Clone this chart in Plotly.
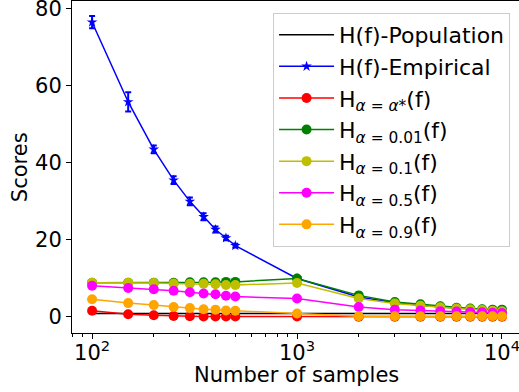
import plotly.graph_objects as go

samples = [100, 150, 200, 250, 300, 350, 400, 450, 500, 1000, 2000, 3000, 4000, 5000, 6000, 7000, 8000, 9000, 10000]

population = [0.9] * 19
empirical = [76.5, 55.8, 43.5, 35.5, 30.0, 26.0, 22.7, 20.5, 18.5, 10.0, 5.2, 3.7, 3.0, 2.6, 2.3, 2.1, 1.9, 1.8, 1.7]
empirical_err = [1.6, 2.5, 1.0, 1.0, 1.0, 0.9, 0.8, 0.6, 0.5, 0.3, 0.2, 0.2, 0.2, 0.2, 0.2, 0.2, 0.2, 0.2, 0.2]
alpha_star = [1.6, 0.7, 0.45, 0.25, 0.2, 0.15, 0.15, 0.1, 0.1, 0.1, 0.05, 0.05, 0.05, 0.05, 0.05, 0.05, 0.05, 0.05, 0.05]
alpha_001 = [8.9, 8.9, 8.9, 8.9, 9.0, 9.0, 9.0, 9.1, 9.1, 10.0, 5.6, 3.9, 3.3, 2.8, 2.4, 2.2, 2.0, 1.9, 1.9]
alpha_01 = [8.9, 8.9, 8.8, 8.7, 8.6, 8.6, 8.5, 8.3, 8.3, 8.8, 4.8, 3.5, 2.9, 2.5, 2.2, 2.0, 1.8, 1.6, 1.5]
alpha_05 = [8.1, 7.5, 7.2, 6.8, 6.4, 6.1, 5.9, 5.5, 5.3, 4.8, 2.6, 1.9, 1.7, 1.5, 1.4, 1.3, 1.2, 1.1, 1.0]
alpha_09 = [4.6, 3.6, 3.1, 2.6, 2.3, 2.0, 1.9, 1.7, 1.6, 0.9, 0.2, 0.2, 0.2, 0.2, 0.2, 0.2, 0.2, 0.2, 0.2]
small_err = [0.3] * 19

x_tick_vals = [100, 1000, 10000]
x_tick_text = ["10<sup>2</sup>", "10<sup>3</sup>", "10<sup>4</sup>"]
x_minor_vals = [80, 90, 200, 300, 400, 500, 600, 700, 800, 900,
                2000, 3000, 4000, 5000, 6000, 7000, 8000, 9000]
y_tick_vals = [0, 20, 40, 60, 80]

FONT = "DejaVu Sans"
FS = 21

fig = go.Figure()

fig.add_trace(go.Scatter(x=samples, y=population, mode="lines", name="H(f)-Population",
                         line=dict(color="black", width=1.5)))
fig.add_trace(go.Scatter(x=samples, y=empirical, mode="lines+markers", name="H(f)-Empirical",
                         line=dict(color="#0000ff", width=1.5),
                         marker=dict(symbol="star", size=8, color="#0000ff"),
                         error_y=dict(type="data", array=empirical_err, color="#0000ff", thickness=2, width=3)))

series = [
    (alpha_star, "H<sub><i>α</i> = <i>α</i>*</sub>(f)", "#ff0000"),
    (alpha_001, "H<sub><i>α</i> = 0.01</sub>(f)", "#008000"),
    (alpha_01, "H<sub><i>α</i> = 0.1</sub>(f)", "#bfbf00"),
    (alpha_05, "H<sub><i>α</i> = 0.5</sub>(f)", "#ff00ff"),
    (alpha_09, "H<sub><i>α</i> = 0.9</sub>(f)", "#ffa500"),
]
for vals, name, col in series:
    fig.add_trace(go.Scatter(x=samples, y=vals, mode="lines+markers", name=name,
                             line=dict(color=col, width=1.5),
                             marker=dict(symbol="circle", size=10, color=col),
                             error_y=dict(type="data", array=small_err, color=col, thickness=1.5, width=0)))

fig.update_layout(
    width=519, height=392,
    margin=dict(l=72, r=0, t=1, b=59),
    paper_bgcolor="white", plot_bgcolor="white",
    font=dict(family=FONT, size=FS, color="black"),
    showlegend=True,
    legend=dict(x=0.98, y=0.964, xanchor="right", yanchor="top",
                bgcolor="rgba(255,255,255,0.8)", bordercolor="#cccccc", borderwidth=1,
                font=dict(family=FONT, size=22, color="black"),
                itemwidth=55, tracegroupgap=0),
    xaxis=dict(type="log", range=[1.902, 4.083], automargin=False,
               tickmode="array", tickvals=x_tick_vals, ticktext=x_tick_text,
               ticks="outside", ticklen=5, tickwidth=1, tickcolor="black",
               minor=dict(tickmode="array", tickvals=x_minor_vals, ticks="outside", ticklen=3,
                          tickwidth=1, tickcolor="black", showgrid=False),
               showline=True, linecolor="black", linewidth=1, mirror=True,
               showgrid=False, zeroline=False, ticklabeloverflow="allow",
               ticklabelstandoff=-4,
               tickfont=dict(family=FONT, size=FS)),
    yaxis=dict(range=[-4.16, 82.0], automargin=False, tickmode="array", tickvals=y_tick_vals,
               ticks="outside", ticklen=5, tickwidth=1, tickcolor="black",
               showline=True, linecolor="black", linewidth=1, mirror=False,
               showgrid=False, zeroline=False, ticklabeloverflow="allow",
               tickfont=dict(family=FONT, size=FS)),
    annotations=[
        dict(text="Number of samples", xref="paper", yref="paper", x=0.503, y=-0.128,
             xanchor="center", yanchor="middle", showarrow=False,
             font=dict(family=FONT, size=FS)),
        dict(text="Scores", xref="paper", yref="paper", x=-0.116, y=0.5, textangle=-90,
             xanchor="center", yanchor="middle", showarrow=False,
             font=dict(family=FONT, size=FS)),
    ],
)

fig.write_html("out.html", config={"displayModeBar": False},
               post_script="document.body.style.margin='0';document.body.style.padding='0';")
